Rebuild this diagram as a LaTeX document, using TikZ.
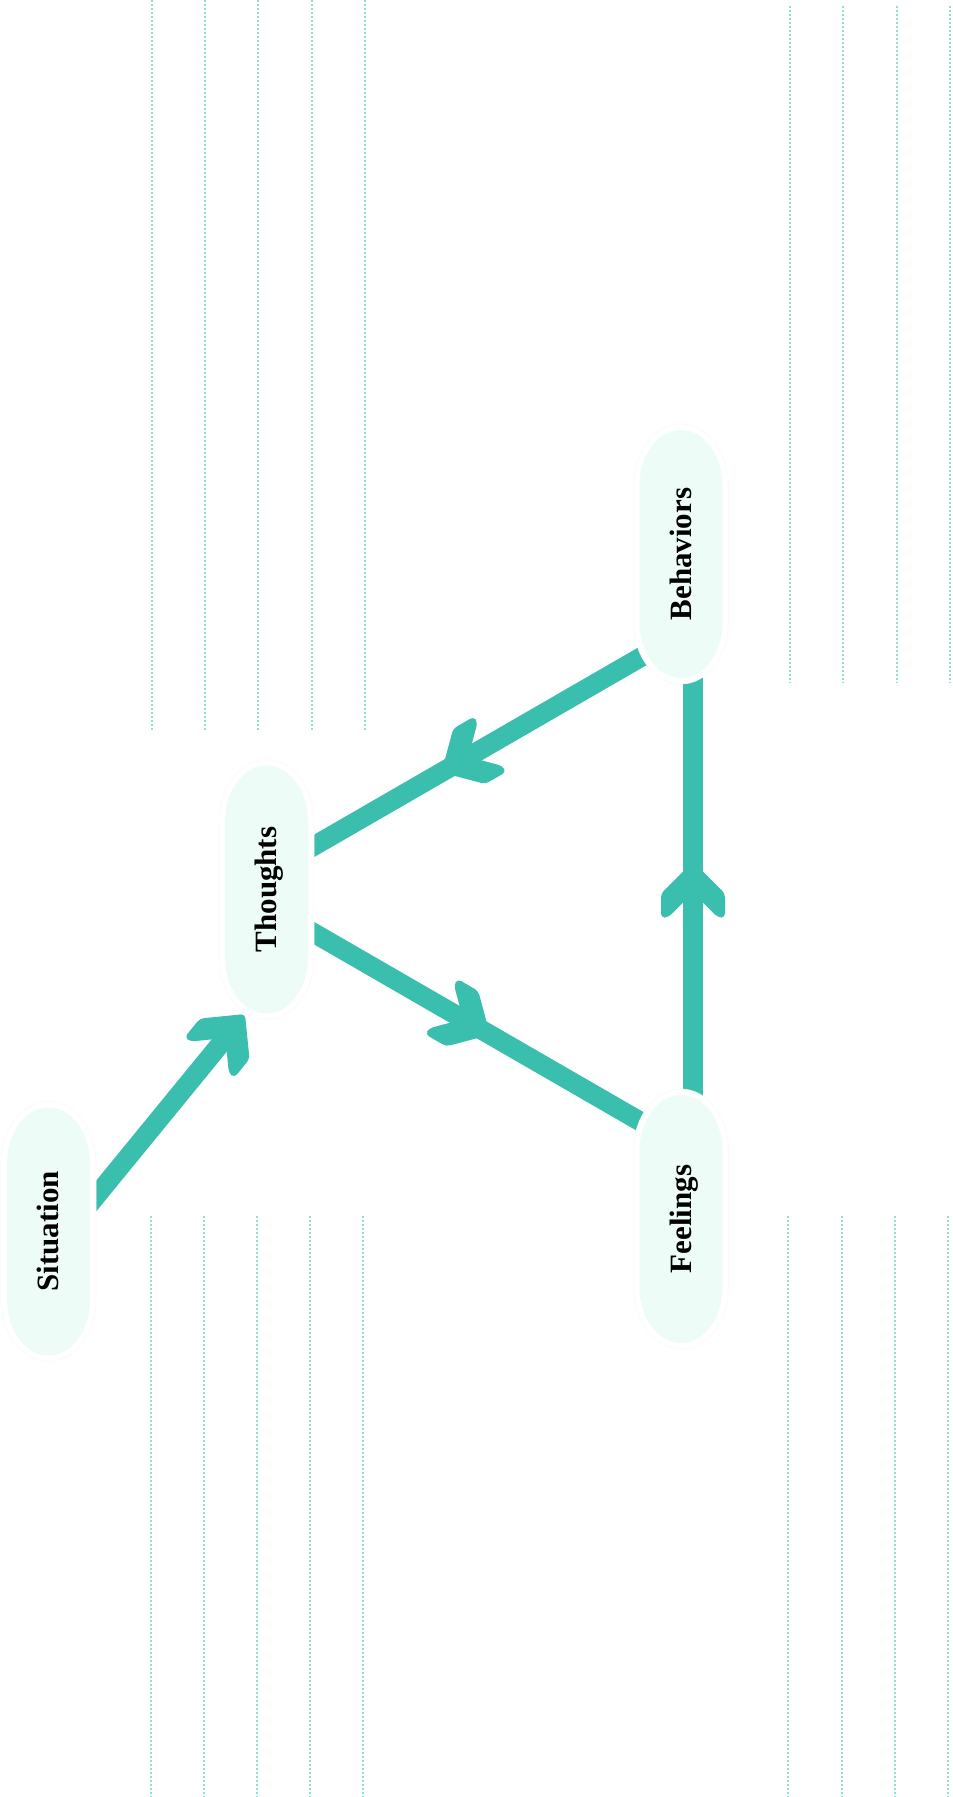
\documentclass[tikz,border=0pt]{standalone}
\usepackage{fontspec}
\setmainfont{Liberation Serif}
\usetikzlibrary{calc,decorations.markings}
\definecolor{teal1}{HTML}{3ABEAE}
\definecolor{dotc}{HTML}{8EDED1}
\definecolor{pillfill}{HTML}{EEFCF8}
\definecolor{pillring}{HTML}{F9FAFA}
\pgfdeclarelayer{bg}
\pgfdeclarelayer{lines}
\pgfdeclarelayer{pills}
\pgfsetlayers{bg,lines,pills,main}
\newcommand\chevronhead{\fill[teal1, rounded corners=4pt] (0,0) -- (-32,32) -- (-56,32) -- (-56,25) -- (-31,0) -- (-56,-25) -- (-56,-32) -- (-32,-32) -- cycle;}
\newcommand\pillshape[1]{%
  \begin{scope}[shift={(#1.center)}]
    \filldraw[fill=white, draw=pillring, line width=0.6pt] (-47.5,68) -- (-47.5,-68) arc[start angle=180,end angle=360,x radius=47.5,y radius=62] -- (47.5,68) arc[start angle=0,end angle=180,x radius=47.5,y radius=62] -- cycle;
    \fill[pillfill] (-41.5,68) -- (-41.5,-68) arc[start angle=180,end angle=360,x radius=41.5,y radius=56] -- (41.5,68) arc[start angle=0,end angle=180,x radius=41.5,y radius=56] -- cycle;
  \end{scope}}
\tikzset{
  conn/.style={line width=19.5pt, draw=teal1},
  dotln/.style={line width=2pt, draw=dotc, dash pattern=on 2pt off 2pt},
  lbl/.style={font=\fontsize{31}{31}\selectfont\bfseries, rotate=90, text height=20pt, text depth=0pt, inner sep=0pt},
  midhead/.style={postaction=decorate, decoration={markings, mark=at position 0.5 with {\begin{scope}[xshift=28pt]\chevronhead\end{scope}}}},
  endhead/.style={postaction=decorate, decoration={markings, mark=at position 1 with {\begin{scope}[xshift=12pt]\chevronhead\end{scope}}}},
}
\begin{document}
\begin{tikzpicture}[x=1pt,y=1pt]
\useasboundingbox (0,0) rectangle (953,-1797);
\begin{pgfonlayer}{bg}
  \fill[white] (0,0) rectangle (953,-1797);
  \foreach \x in {151.7,205,258.3,311.7,365} \draw[dotln] (\x,0) -- (\x,-732);
  \foreach \x in {150.7,203.7,256.7,310,363.3} \draw[dotln] (\x,-1216) -- (\x,-1797);
  \foreach \x in {790,843.3,896.7,950} \draw[dotln] (\x,-6) -- (\x,-683);
  \foreach \x in {788,842,895,948} \draw[dotln] (\x,-1216) -- (\x,-1797);
\end{pgfonlayer}

\node[lbl] (sit) at (48.5,-1231.5) {Situation};
\node[lbl] (thoughts) at (266.5,-889.5) {Thoughts};
\node[lbl] (beh) at (681,-554) {Behaviors};
\node[lbl] (feel) at (681,-1219) {Feelings};

\coordinate (tv) at ($(thoughts.center)+(-28,0)$);
\coordinate (bv) at ($(beh.center)+(12,-73.1)$);
\coordinate (fv) at ($(feel.center)+(12,67.1)$);
\coordinate (s1) at ($(sit.center)+(21.5,3.5)$);
\coordinate (e1) at ($(thoughts.center)+(-21.5,-124.5)$);
\coordinate (e1b) at ($(e1)!12pt!(s1)$);

\begin{pgfonlayer}{lines}
  \draw[conn, midhead] (bv) -- (tv);
  \draw[conn, midhead] (tv) -- (fv);
  \draw[conn, midhead] (fv) -- (bv);
  \draw[conn, endhead] (s1) -- (e1b);
\end{pgfonlayer}

\begin{pgfonlayer}{pills}
  \pillshape{sit}
  \pillshape{thoughts}
  \pillshape{beh}
  \pillshape{feel}
\end{pgfonlayer}
\end{tikzpicture}
\end{document}
